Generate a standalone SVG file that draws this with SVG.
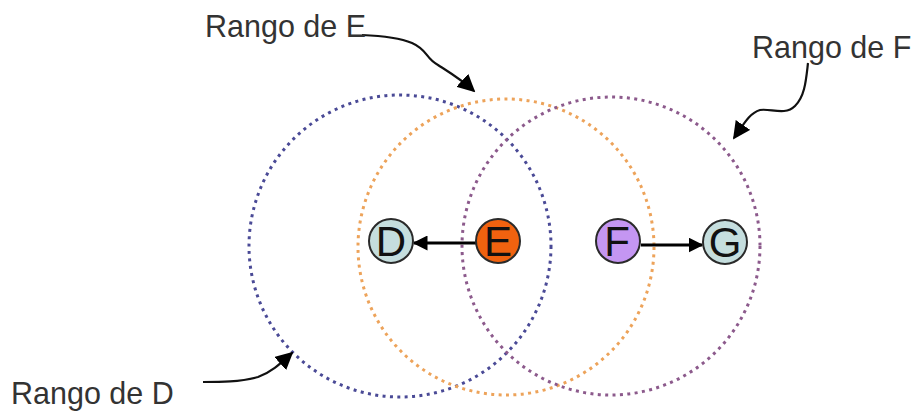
<svg xmlns="http://www.w3.org/2000/svg" width="917" height="412" viewBox="0 0 917 412">
<defs>
<style>
.rng{fill:none;stroke-width:3;stroke-dasharray:3 4.4}
.node circle{stroke:#2a2a2a;stroke-width:2}
.node text{font-family:"Liberation Sans",Arial,sans-serif;font-size:42px;fill:#111;text-anchor:middle}
.lbl{font-family:"Liberation Sans",Arial,sans-serif;font-size:30.5px;fill:#333}
.edge{stroke:#000;stroke-width:3;fill:none}
.curve{stroke:#111;stroke-width:2.2;fill:none}
</style>
<marker id="ah" viewBox="0 0 10 10" refX="9" refY="5" markerWidth="5" markerHeight="5" orient="auto" markerUnits="strokeWidth">
<path d="M0,0 L10,5 L0,10 z" fill="#000"/>
</marker>
<marker id="ah2" viewBox="0 0 10 10" refX="9" refY="5" markerWidth="8" markerHeight="8" orient="auto" markerUnits="strokeWidth">
<path d="M0,0 L10,5 L0,10 z" fill="#000"/>
</marker>
</defs>
<rect width="917" height="412" fill="#fff"/>
<g id="ranges">
<circle id="rangoD" class="rng" cx="400" cy="246" r="151" stroke="#4a4a96"/>
<circle id="rangoE" class="rng" cx="506" cy="247" r="148" stroke="#eda35a"/>
<circle id="rangoF" class="rng" cx="611" cy="246" r="149" stroke="#8c5a8c"/>
</g>
<g id="connectors">
<line class="edge" x1="476" y1="243" x2="414" y2="243" marker-end="url(#ah)"/>
<line class="edge" x1="641" y1="245" x2="702" y2="245" marker-end="url(#ah)"/>
<path class="curve" d="M362,35 C385,36 400,38 412,43 C428,50 425,58 438,65 C452,74 462,80 474,91" marker-end="url(#ah2)"/>
<path class="curve" d="M808,63 C806,80 805,96 795,106 C785,116 770,108 760,110 C750,113 745,122 734,138" marker-end="url(#ah2)"/>
<path class="curve" d="M203,382 C220,382 240,382 258,377 C272,372 282,362 292,353" marker-end="url(#ah2)"/>
</g>
<g id="D" class="node"><circle cx="391" cy="241" r="22" fill="#c5dede"/><text x="391" y="256">D</text></g>
<g id="E" class="node"><circle cx="498" cy="241" r="22" fill="#f0620f"/><text x="498" y="256">E</text></g>
<g id="F" class="node"><circle cx="618" cy="241" r="22" fill="#c496f2"/><text x="617" y="256">F</text></g>
<g id="G" class="node"><circle cx="725" cy="242" r="22" fill="#c5dede"/><text x="725" y="257">G</text></g>
<g id="labels">
<text class="lbl" x="205" y="37">Rango de E</text>
<text class="lbl" x="752" y="58">Rango de F</text>
<text class="lbl" x="11" y="404">Rango de D</text>
</g>
</svg>
